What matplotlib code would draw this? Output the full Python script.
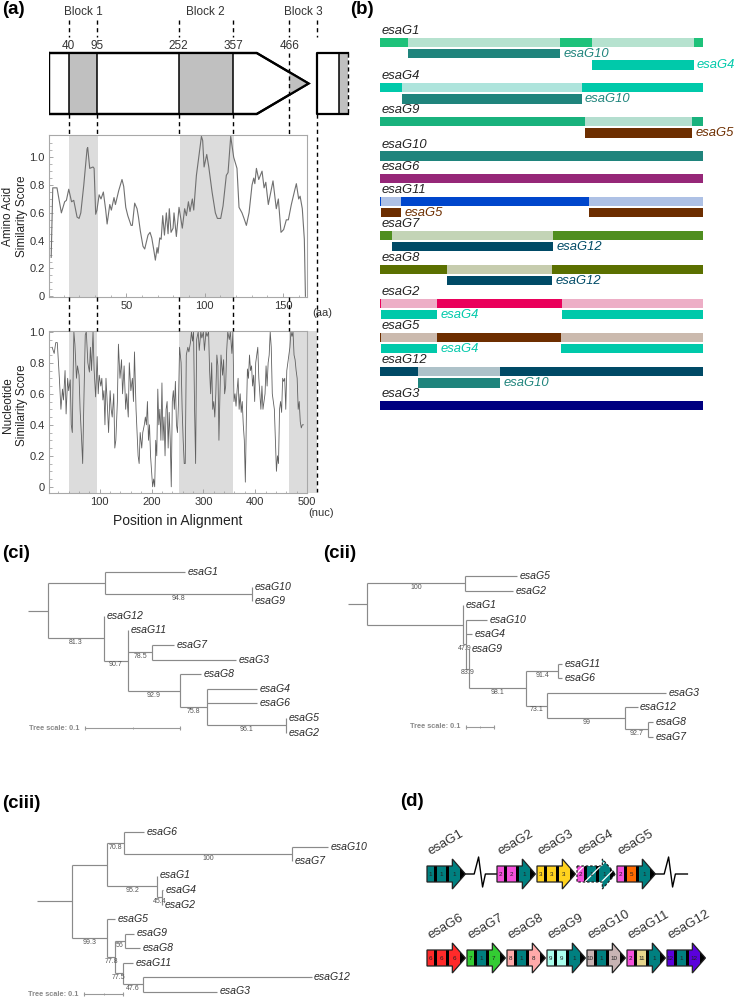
import numpy as np
import matplotlib.pyplot as plt
from matplotlib.patches import Polygon, Rectangle

plt.rcParams['font.family'] = ['Liberation Sans', 'DejaVu Sans']
plt.rcParams['hatch.linewidth'] = 0.9

# ---------------- (a) similarity profiles ----------------
blocks_nt = [(40, 95), (252, 357), (466, 519)]
block_names = ['Block 1', 'Block 2', 'Block 3']
block_marks = [40, 95, 252, 357, 466]

aa_profile = [
    (2, 0.28), (3, 0.78), (5.7, 0.78), (8.5, 0.6), (10.6, 0.68), (11.7, 0.69), (13.2, 0.77),
    (15, 0.68), (16.4, 0.69), (18.5, 0.57), (19.8, 0.56), (20.9, 0.6), (22.8, 0.8), (24.9, 1.06),
    (25.3, 1.07), (26.6, 0.92), (28.7, 0.93), (29.4, 0.92), (30.4, 0.59), (31.2, 0.62), (32.6, 0.73),
    (33.8, 0.70), (35.3, 0.75), (36.8, 0.62), (37.7, 0.52), (39.4, 0.66), (40.4, 0.62), (42.1, 0.71),
    (43, 0.66), (45.1, 0.76), (47.2, 0.84), (48.3, 0.79), (49.6, 0.64), (50.9, 0.58), (53, 0.51),
    (53.8, 0.51), (55.3, 0.67), (56.8, 0.63), (57.7, 0.57), (58.9, 0.47), (60.6, 0.36), (61.7, 0.34),
    (63.8, 0.44), (65.1, 0.46), (66.2, 0.42), (67.4, 0.34), (68.5, 0.26), (69.6, 0.35), (70.2, 0.31),
    (71.3, 0.42), (72.2, 0.41), (73.2, 0.58), (74.3, 0.44), (75.5, 0.6), (76.6, 0.45), (77.4, 0.63),
    (78.5, 0.46), (79.8, 0.49), (80.4, 0.6), (81.9, 0.43), (83.6, 0.64), (85.7, 0.49), (87.2, 0.63),
    (88.3, 0.58), (89.6, 0.68), (90.6, 0.61), (92.1, 0.7), (93, 0.62), (94.7, 0.87), (96.2, 1.0),
    (97.9, 1.15), (98.7, 1.12), (99.6, 0.93), (101.3, 1.02), (102.6, 0.93), (104.7, 0.75), (106.8, 0.6),
    (108.1, 0.56), (110.2, 0.56), (111.7, 0.65), (113.8, 0.87), (114.9, 0.89), (116.6, 1.15),
    (118.5, 1.0), (120.6, 0.92), (121.9, 0.64), (123.8, 0.6), (125.1, 0.56), (126.6, 0.51),
    (128.3, 0.6), (130.2, 0.8), (131.3, 0.85), (132, 0.81), (133, 0.92), (134.5, 0.84), (136.6, 0.9),
    (137.9, 0.78), (139, 0.82), (140.6, 0.66), (143.6, 0.83), (145.7, 0.63), (147, 0.7), (148.7, 0.46),
    (150.4, 0.48), (152.1, 0.55), (153.4, 0.55), (155.3, 0.66), (157.4, 0.76), (158.5, 0.81),
    (160, 0.7), (160.9, 0.72), (162.3, 0.63), (163.6, 0.41), (164.3, 0.0)]

nt_profile = [
    (8, 0.9), (12, 0.86), (15, 0.93), (18, 0.93), (22, 0.7), (25, 0.5), (28, 0.63), (30, 0.56),
    (33, 0.75), (35, 0.47), (38, 0.7), (40, 0.62), (43, 0.69), (45, 0.4), (47, 0.35), (48, 0.6),
    (50, 1.0), (52, 0.92), (55, 0.7), (57, 0.78), (60, 0.72), (62, 0.5), (65, 0.3), (67, 0.15),
    (69, 0.5), (72, 0.98), (74, 1.0), (77, 0.8), (80, 0.74), (82, 0.9), (84, 0.75), (87, 1.0),
    (89, 0.76), (92, 0.58), (95, 0.84), (97, 0.6), (99, 0.72), (102, 0.65), (104, 0.7), (106, 0.56),
    (108, 0.62), (110, 0.4), (112, 0.7), (115, 0.5), (117, 0.35), (120, 0.62), (122, 0.5), (124, 0.45),
    (127, 0.6), (129, 0.25), (131, 0.3), (134, 0.55), (136, 0.92), (139, 0.7), (142, 0.82), (144, 0.6),
    (147, 0.78), (150, 0.5), (152, 0.6), (155, 0.45), (157, 0.8), (160, 0.62), (163, 0.7), (165, 0.55),
    (167, 0.87), (170, 0.5), (172, 0.35), (174, 0.2), (176, 0.15), (178, 0.35), (181, 0.25), (183, 0.35),
    (186, 0.4), (188, 0.45), (190, 0.4), (192, 0.55), (194, 0.3), (196, 0.4), (198, 0.2), (200, 0.1),
    (202, 0.0), (204, 0.05), (206, 0.0), (208, 0.3), (210, 0.2), (212, 0.63), (214, 0.4), (216, 0.5),
    (218, 0.3), (220, 0.67), (222, 0.3), (224, 0.45), (226, 0.2), (228, 0.5), (230, 0.55), (232, 0.25),
    (234, 0.48), (236, 0.3), (238, 0.0), (240, 0.55), (242, 0.62), (244, 0.5), (246, 0.68), (248, 0.4),
    (250, 0.35), (252, 0.55), (254, 0.9), (257, 0.8), (259, 0.5), (261, 0.3), (263, 0.15), (265, 0.15),
    (267, 0.85), (270, 0.9), (272, 0.87), (275, 0.93), (277, 1.0), (279, 0.94), (281, 1.0), (283, 0.5),
    (285, 0.15), (287, 0.95), (290, 1.0), (292, 0.88), (295, 1.0), (297, 0.96), (300, 1.0), (302, 0.88),
    (305, 1.0), (307, 0.97), (310, 1.0), (312, 0.75), (314, 0.6), (316, 0.8), (318, 0.5), (320, 0.55),
    (322, 0.45), (324, 0.6), (326, 0.85), (328, 0.78), (330, 0.3), (332, 0.6), (334, 0.85), (337, 0.72),
    (339, 0.82), (341, 0.6), (343, 0.65), (345, 0.88), (347, 1.0), (350, 0.95), (352, 1.0), (355, 0.86),
    (357, 1.0), (359, 0.55), (361, 0.6), (363, 0.52), (365, 0.62), (367, 0.7), (369, 0.5), (371, 0.6),
    (373, 0.48), (375, 0.55), (377, 0.4), (379, 0.3), (381, 0.03), (383, 0.45), (385, 0.76), (387, 0.7),
    (389, 0.85), (391, 0.75), (393, 0.78), (395, 0.65), (397, 0.72), (399, 0.55), (401, 0.8), (403, 0.85),
    (405, 0.9), (407, 0.7), (409, 0.6), (411, 0.5), (413, 0.65), (415, 0.5), (417, 0.55), (419, 0.6),
    (421, 0.78), (423, 0.65), (425, 0.8), (427, 0.85), (429, 1.0), (431, 0.9), (433, 0.6), (435, 0.55),
    (437, 0.5), (439, 0.3), (441, 0.1), (443, 0.2), (445, 0.15), (447, 0.5), (449, 0.55), (451, 0.48),
    (453, 0.7), (455, 0.68), (457, 0.7), (459, 0.5), (461, 0.75), (463, 0.8), (465, 0.85), (467, 0.9),
    (469, 1.0), (471, 0.97), (473, 1.0), (475, 0.85), (477, 0.82), (479, 0.75), (481, 0.7), (483, 0.5),
    (485, 0.55), (487, 0.42), (489, 0.38), (491, 0.4), (493, 0.4)]

# ---------------- (b) recombination map ----------------
genes_b = ['esaG1', 'esaG4', 'esaG9', 'esaG10', 'esaG6', 'esaG11',
           'esaG7', 'esaG8', 'esaG2', 'esaG5', 'esaG12', 'esaG3']
gene_colors = {
    'esaG1': '#1ec27a', 'esaG4': '#00c9aa', 'esaG9': '#19b27d', 'esaG10': '#1f847c',
    'esaG6': '#962778', 'esaG11': '#0046cc', 'esaG7': '#4f8e1f', 'esaG8': '#5b7000',
    'esaG2': '#ea005b', 'esaG5': '#6d2e00', 'esaG12': '#004a66', 'esaG3': '#000080'}
# per query gene: lines of (donor gene, [fractional ranges])
matches = {
    'esaG1': [('esaG10', [(0.086, 0.557)]), ('esaG4', [(0.657, 0.971)])],
    'esaG4': [('esaG10', [(0.068, 0.624)])],
    'esaG9': [('esaG5', [(0.636, 0.966)])],
    'esaG10': [],
    'esaG6': [],
    'esaG11': [('esaG5', [(0.003, 0.065), (0.648, 1.0)])],
    'esaG7': [('esaG12', [(0.036, 0.536)])],
    'esaG8': [('esaG12', [(0.207, 0.533)])],
    'esaG2': [('esaG4', [(0.003, 0.177), (0.563, 1.0)])],
    'esaG5': [('esaG4', [(0.003, 0.177), (0.56, 1.0)])],
    'esaG12': [('esaG10', [(0.119, 0.371)])],
    'esaG3': [],
}

# ---------------- (c) trees (newick, bootstrap as node labels) ----------------
tree_ci = ("((esaG1:0.084,(esaG10:0,esaG9:0)94.8:0.155):0.06,(esaG12:0,(esaG11:0,"
           "(esaG7:0.023,esaG3:0.088)78.5:0.026,(esaG8:0.022,(esaG4:0.053,esaG6:0.053,"
           "(esaG5:0,esaG2:0)96.1:0.084)75.8:0.028)92.9:0.055)90.7:0.025)81.3:0.059):0.021;")
tree_cii = ("((esaG5:0.186,esaG2:0.171)100:0.35,(esaG1:0,(esaG10:0.075,esaG4:0.021,"
            "(esaG9:0,((esaG11:0.014,esaG6:0.014)91.4:0.114,(esaG3:0.425,(esaG12:0.043,"
            "(esaG8:0.018,esaG7:0.018)92.7:0.082)99:0.279)73.1:0.075)98.1:0.204)83.9:0.011)"
            "47.9:0.011):0.343):0.068;")
tree_ciii = ("(((esaG6:0.051,(esaG10:0.092,esaG7:0)100:0.431)70.8:0.044,(esaG1:0,"
             "(esaG4:0.003,esaG2:0)45.4:0.013)95.2:0.128):0.09,(esaG5:0.02,((esaG9:0.023,"
             "esaG8:0.038)56:0.026,(esaG11:0.026,(esaG12:0.433,esaG3:0.19)47.6:0.051)77.5:0.02)"
             "77.8:0.02)99.3:0.09):0.09;")

# ---------------- (d) domain architecture ----------------
row1 = ['esaG1', None, 'esaG2', 'esaG3', 'esaG4', 'esaG5', None]
row2 = ['esaG6', 'esaG7', 'esaG8', 'esaG9', 'esaG10', 'esaG11', 'esaG12']
domains = {
    'esaG1': ['1', '1', '1'], 'esaG2': ['2', '2', '1'], 'esaG3': ['3', '3', '3'],
    'esaG4': ['2', '1', '1'], 'esaG5': ['2', '5', '1'], 'esaG6': ['6', '6', '6'],
    'esaG7': ['7', '1', '7'], 'esaG8': ['8', '1', '8'], 'esaG9': ['9', '9', '1'],
    'esaG10': ['10', '1', '10'], 'esaG11': ['2', '11', '1'], 'esaG12': ['12', '1', '12']}
domain_colors = {
    '1': '#008080', '2': '#f550dc', '3': '#ffd21e', '5': '#ff6a00', '6': '#ff2a2a',
    '7': '#33cc33', '8': '#ffaaaa', '9': '#aaffee', '10': '#c8b4b4', '11': '#e6d68c',
    '12': '#5a00dc'}
truncated = ['esaG4']

# ======================================================================
W, H = 734, 999
fig = plt.figure(figsize=(W / 100, H / 100), dpi=100)


def px_axes(x0, y0, x1, y1):
    return fig.add_axes([x0 / W, 1 - y1 / H, (x1 - x0) / W, (y1 - y0) / H])


def fig_text(x, y, s, **kw):
    fig.text(x / W, 1 - y / H, s, **kw)


for lab, x, y in [('(a)', 2, 10), ('(b)', 350, 10), ('(ci)', 2, 553),
                  ('(cii)', 323, 553), ('(ciii)', 2, 804), ('(d)', 400, 801)]:
    fig_text(x, y, lab, fontsize=13.5, fontweight='bold', va='center')


def style_profile(ax):
    for sp in ax.spines.values():
        sp.set_color('#a8a8a8')
        sp.set_linewidth(0.8)
    ax.tick_params(direction='in', length=3, width=0.6, color='#999999',
                   labelsize=8, labelcolor='#333333', pad=3)
    ax.tick_params(which='minor', direction='in', length=1.8, width=0.5, color='#999999')


shade = '#dcdcdc'
ytk = [0, 0.2, 0.4, 0.6, 0.8, 1.0]
ylab = ['0', '0.2', '0.4', '0.6', '0.8', '1.0']

# amino acid profile
ax_aa = px_axes(49, 135, 307, 297)
aa = np.array(aa_profile)
for s, e in blocks_nt[:2]:
    ax_aa.axvspan(s / 3, e / 3, color=shade, lw=0, zorder=0)
ax_aa.plot(aa[:, 0], aa[:, 1], color='#707070', lw=0.8)
ax_aa.set_xlim(0.6, 165.3)
ax_aa.set_ylim(-0.005, 1.16)
ax_aa.set_xticks([50, 100, 150])
ax_aa.set_xticks(np.arange(10, 165, 10), minor=True)
ax_aa.set_yticks(ytk, ylab)
ax_aa.set_yticks(np.arange(0, 1.15, 0.05), minor=True)
style_profile(ax_aa)
fig_text(15, 216, 'Amino Acid\nSimilarity Score', rotation=90, ha='center', va='center',
         fontsize=8.5, linespacing=1.15, color='#222222')
fig_text(322, 313, '(aa)', ha='center', va='center', fontsize=8, color='#333333')

# nucleotide profile
ax_nt = px_axes(49, 331, 307, 493)
nt = np.array(nt_profile)
for s, e in blocks_nt[:2]:
    ax_nt.axvspan(s, e, color=shade, lw=0, zorder=0)
s, e = blocks_nt[2]
ax_nt.add_patch(Rectangle((s, 0), e - s, 1, transform=ax_nt.get_xaxis_transform(),
                          clip_on=False, fc=shade, lw=0, zorder=0))
ax_nt.plot(nt[:, 0], nt[:, 1], color='#606060', lw=0.6)
ax_nt.set_xlim(2, 500)
ax_nt.set_ylim(-0.04, 1.005)
ax_nt.set_xticks([100, 200, 300, 400, 500])
ax_nt.set_xticks(np.arange(20, 500, 20), minor=True)
ax_nt.set_yticks(ytk, ylab)
ax_nt.set_yticks(np.arange(0, 1.0, 0.05), minor=True)
style_profile(ax_nt)
ax_nt.set_xlabel('Position in Alignment', fontsize=10, color='#222222', labelpad=5)
fig_text(15, 405, 'Nucleotide\nSimilarity Score', rotation=90, ha='center', va='center',
         fontsize=8.5, linespacing=1.15, color='#222222')
fig_text(321, 513, '(nuc)', ha='center', va='center', fontsize=8, color='#333333')

# schematic and guide lines, in nucleotide units
k_px = 258 / 498
ax_s = px_axes(49, 0, 360, 500)
ax_s.set_xlim(2, 2 + 311 / k_px)
ax_s.set_ylim(500, 0)
ax_s.axis('off')
top, bot = 53, 114
mid = (top + bot) / 2
body_end, tip = 403, 503
ins0, ins_gray, ins1 = 519, 561, 579
ax_s.add_patch(Polygon([(2, top), (body_end, top), (tip, mid), (body_end, bot), (2, bot)],
                       closed=True, fc='white', ec='black', lw=1.6, zorder=2))
for s, e in blocks_nt[:2]:
    ax_s.add_patch(Rectangle((s, top), e - s, bot - top, fc='#c0c0c0', ec='black', lw=1.1, zorder=3))
half = (bot - top) / 2
off = half * (tip - blocks_nt[2][0]) / (tip - body_end)
ax_s.add_patch(Polygon([(blocks_nt[2][0], mid - off), (tip, mid), (blocks_nt[2][0], mid + off)],
                       closed=True, fc='#c0c0c0', ec='none', zorder=3))
ax_s.plot([2, body_end, tip, body_end, 2, 2], [top, top, mid, bot, bot, top],
          color='black', lw=1.6, zorder=4, solid_joinstyle='miter')
ax_s.add_patch(Rectangle((ins_gray, top), ins1 - ins_gray, bot - top, fc='#c0c0c0', ec='none', zorder=3))
ax_s.plot([ins1, ins0, ins0, ins1], [top, top, bot, bot], color='black', lw=1.6, zorder=4)
ax_s.plot([ins_gray, ins_gray], [top, bot], color='black', lw=1.1, zorder=4)
ax_s.plot([ins1, ins1], [top, bot], color='black', lw=1.0, ls=(0, (3, 2)), zorder=4)

dash = (0, (3, 2.5))
guide = block_marks + [blocks_nt[2][1]]
ax_s.vlines(guide, 20, 37, colors='black', lw=1, linestyles=dash)
ax_s.vlines(block_marks[:4], bot, 135, colors='black', lw=1, linestyles=dash)
ax_s.vlines(block_marks[4], top, 135, colors='black', lw=1, linestyles=dash, zorder=5)
ax_s.vlines(block_marks, 297, 331, colors='black', lw=1, linestyles=dash)
ax_s.vlines(blocks_nt[2][1], bot, 492, colors='black', lw=1, linestyles=dash)
for (s, e), name in zip(blocks_nt, block_names):
    ax_s.text((s + e) / 2, 12, name, ha='center', va='center', fontsize=8.5, color='#333333')
for m in block_marks:
    ax_s.text(m, 46, str(m), ha='center', va='center', fontsize=8.5, color='#333333')

# ---------------- (b) ----------------
ax_b = px_axes(370, 0, 734, 420)
ax_b.set_xlim((370 - 380) / 323, (734 - 380) / 323)
ax_b.set_ylim(34.27, -2.73)
ax_b.axis('off')


def light(c):
    rgb = np.array(plt.matplotlib.colors.to_rgb(c))
    return tuple(0.27 * rgb + 0.73 * np.array([238, 238, 238]) / 255)


bh = 0.82
line = 0
for g in genes_b:
    col = gene_colors[g]
    ax_b.text(0.004, line, g, ha='left', va='center', style='italic', fontsize=9.4, color='#222222')
    ax_b.barh(line + 1, 1.0, left=0, height=bh, color=col, lw=0)
    for donor, ranges in matches[g]:
        for s, e in ranges:
            ax_b.barh(line + 1, e - s, left=s, height=bh, color=light(col), lw=0)
    for i, (donor, ranges) in enumerate(matches[g]):
        y = line + 2 + i
        dc = gene_colors[donor]
        for s, e in ranges:
            ax_b.barh(y, e - s, left=s, height=bh, color=dc, lw=0)
        ax_b.text(ranges[0][1] + 0.01, y, donor, ha='left', va='center', style='italic',
                  fontsize=9.4, color=dc)
    line += 2 + len(matches[g])


# ---------------- (c) trees ----------------
def parse_newick(txt):
    txt = txt.strip().rstrip(';')
    pos = 0

    def node():
        nonlocal pos
        n = {'children': [], 'name': '', 'length': 0.0}
        if txt[pos] == '(':
            pos += 1
            while True:
                n['children'].append(node())
                if txt[pos] == ',':
                    pos += 1
                    continue
                pos += 1
                break
        st = pos
        while pos < len(txt) and txt[pos] not in ',():':
            pos += 1
        n['name'] = txt[st:pos]
        if pos < len(txt) and txt[pos] == ':':
            pos += 1
            st = pos
            while pos < len(txt) and txt[pos] not in ',()':
                pos += 1
            n['length'] = float(txt[st:pos])
        return n
    return node()


def layout(n, x0, leaves):
    n['x'] = x0 + n['length']
    if n['children']:
        for c in n['children']:
            layout(c, n['x'], leaves)
        n['y'] = (n['children'][0]['y'] + n['children'][-1]['y']) / 2
    else:
        n['y'] = len(leaves)
        leaves.append(n)


tree_col = '#8a8a8a'


def draw_tree(newick, region, root_px, scale_px, leaf0_px, step_px, bar_px):
    x0, y0, x1, y1 = region
    ax = px_axes(x0, y0, x1, y1)
    ax.set_xlim((x0 - root_px) / scale_px, (x1 - root_px) / scale_px)
    ax.set_ylim((y1 - leaf0_px) / step_px, (y0 - leaf0_px) / step_px)
    ax.axis('off')
    root = parse_newick(newick)
    layout(root, 0.0, [])
    gap = 2.5 / scale_px

    def walk(n, px):
        ax.plot([px, n['x']], [n['y'], n['y']], color=tree_col, lw=0.85, solid_capstyle='butt')
        kids = n['children']
        if kids:
            ax.plot([n['x'], n['x']], [kids[0]['y'], kids[-1]['y']], color=tree_col, lw=0.85,
                    solid_capstyle='butt')
            if n['name']:
                ax.text((px + n['x']) / 2, n['y'] + 0.06, n['name'], fontsize=5, color='#555555',
                        ha='center', va='top')
            for c in kids:
                walk(c, n['x'])
        else:
            ax.text(n['x'] + gap, n['y'], n['name'], fontsize=7.6, style='italic',
                    color='#2a2a2a', ha='left', va='center')

    walk(root, 0.0)
    bx, by = bar_px
    b0 = (bx - root_px) / scale_px
    yb = (by - leaf0_px) / step_px
    tk = 2.2 / step_px
    ax.plot([b0, b0 + 0.1], [yb, yb], color='#999999', lw=0.8)
    ax.vlines([b0, b0 + 0.1], yb - tk, yb + tk, colors='#999999', lw=0.8)
    ax.vlines([b0 + 0.05], yb - tk / 2, yb + tk / 2, colors='#999999', lw=0.6)
    ax.text(b0 - 6 / scale_px, yb, 'Tree scale: 0.1', ha='right', va='center', fontsize=5.3,
            color='#888888', fontweight='bold')


draw_tree(tree_ci, (0, 560, 340, 745), 28, 950, 572, 14.6, (85, 728))
draw_tree(tree_cii, (340, 560, 734, 745), 348, 280, 576, 14.6, (466, 727))
draw_tree(tree_ciii, (0, 815, 370, 999), 37, 390, 832, 14.5, (84, 994))

# ---------------- (d) ----------------
ax_d = px_axes(370, 830, 734, 999)
ax_d.set_xlim((370 - 427) / 40, (734 - 427) / 40)
ax_d.set_ylim(999, 830)
ax_d.axis('off')


def draw_gene(x, cy, name):
    cols = [domain_colors[d] for d in domains[name]]
    w, hb, hh = 0.96, 8, 15
    hs, tp = x + 0.66 * w, x + w
    outline = [(x, cy - hb), (hs, cy - hb), (hs, cy - hh), (tp, cy), (hs, cy + hh),
               (hs, cy + hb), (x, cy + hb)]
    ax_d.add_patch(Polygon(outline, closed=True, fc=cols[2], ec='none', zorder=2))
    tx = x + 0.86 * w
    th = hh * (tp - tx) / (tp - hs)
    ax_d.add_patch(Polygon([(tx, cy - th), (tp, cy), (tx, cy + th)], closed=True,
                           fc='black', ec='none', zorder=3))
    for (a, b), c in [((0, 0.17), cols[0]), ((0.17, 0.25), 'black'),
                      ((0.25, 0.5), cols[1]), ((0.5, 0.58), 'black')]:
        ax_d.add_patch(Rectangle((x + a * w, cy - hb), (b - a) * w, 2 * hb, fc=c, ec='none', zorder=3))
    for p, d in zip([0.085, 0.375, 0.7], domains[name]):
        ax_d.text(x + p * w, cy, d, fontsize=4.5, ha='center', va='center', color='#222222', zorder=5)
    trunc = name in truncated
    if trunc:
        ax_d.add_patch(Polygon(outline, closed=True, fc='none', ec='white', hatch='//', lw=0, zorder=4))
    ax_d.add_patch(Polygon(outline, closed=True, fc='none', ec='#222222', lw=0.9,
                           ls=(0, (2, 1.5)) if trunc else '-', zorder=6))
    ax_d.text(x + 0.12 * w, cy - hh - 1, name, rotation=30, rotation_mode='anchor',
              ha='left', va='bottom', fontsize=9.5, color='#333333')


def draw_break(x, cy):
    ax_d.plot([x, x + 0.22, x + 0.33, x + 0.43, x + 0.5, x + 0.8],
              [cy, cy, cy - 17, cy + 13, cy, cy], color='black', lw=1)


for row, cy in [(row1, 874), (row2, 958)]:
    cur = 0.0
    for g in row:
        if g is None:
            draw_break(cur - 0.04, cy)
            cur += 0.75
        else:
            draw_gene(cur, cy, g)
            cur += 1.0

fig.savefig('out.png', dpi=100)
